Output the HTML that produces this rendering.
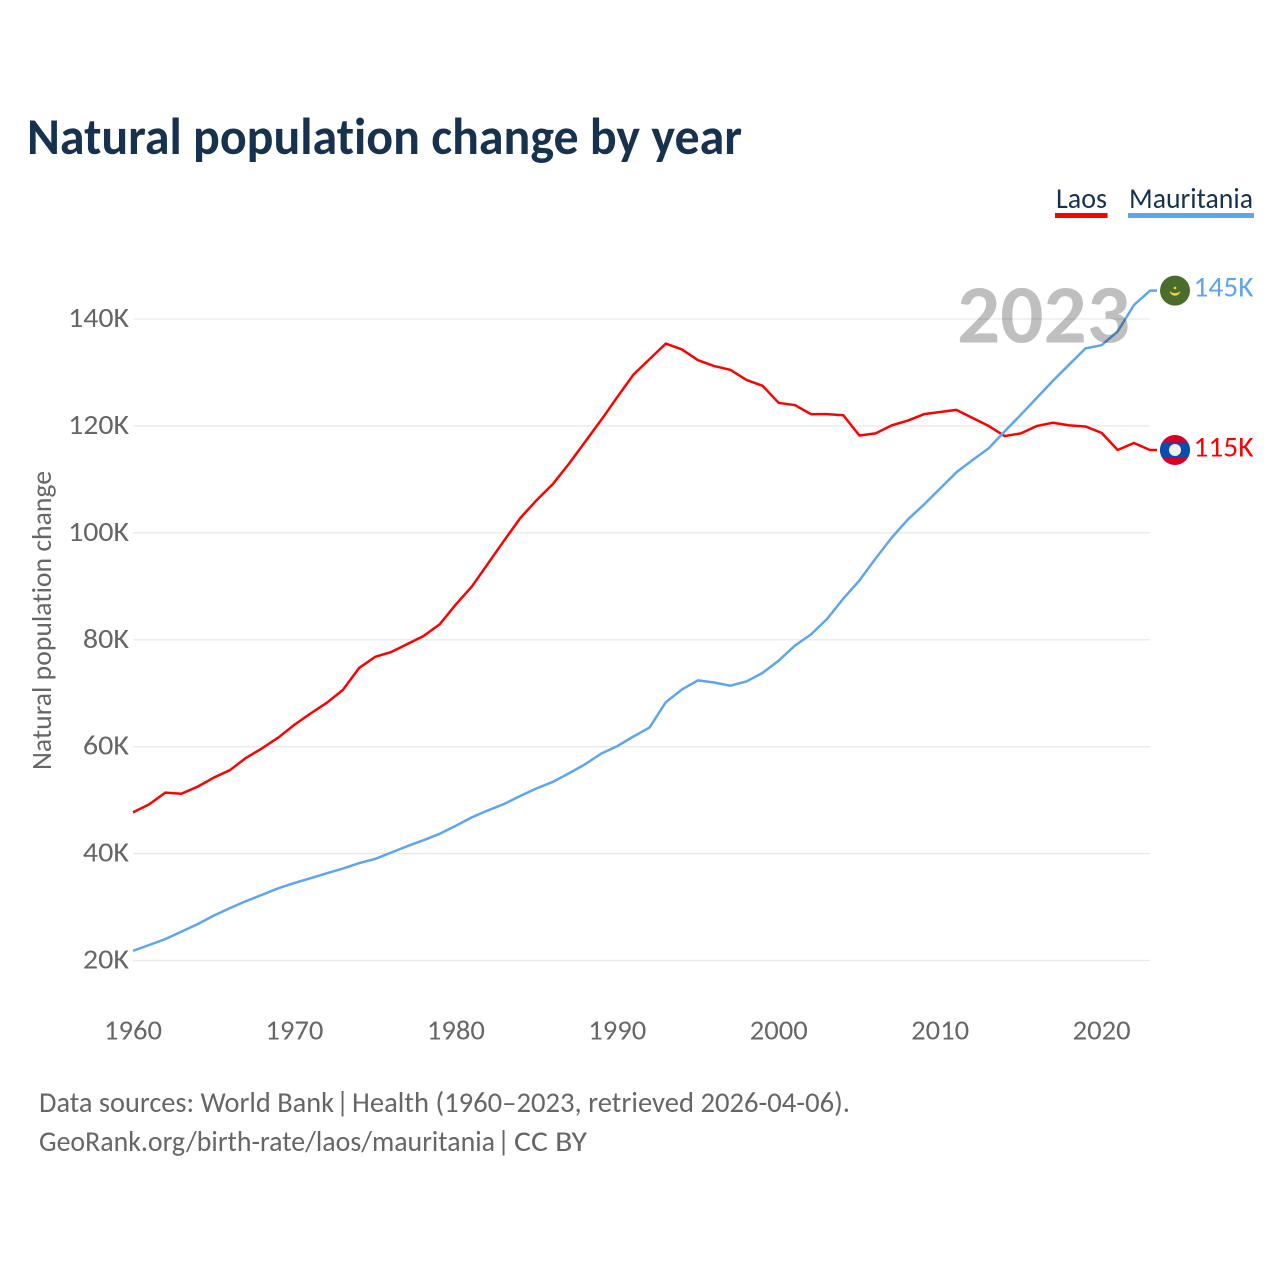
<!DOCTYPE html>
<html lang="en">
<head>
<meta charset="utf-8">
<title>Natural population change by year</title>
<style>
html,body{margin:0;padding:0;background:#fff;}
svg{display:block;font-family:"Carlito","Lato","Liberation Sans",sans-serif;font-variant-ligatures:none;}
.tick{font-size:28px;fill:#666;}
.foot{font-size:28.500px;fill:#666;}
</style>
</head>
<body>
<svg id="chart" xmlns="http://www.w3.org/2000/svg" width="1280" height="1280" viewBox="0 0 1280 1280">
  <defs>
    <clipPath id="laos-flag-clip"><circle cx="0" cy="0" r="15"/></clipPath>
  </defs>
  <rect x="0" y="0" width="1280" height="1280" fill="#fff"/>
  <text x="27" y="154" font-size="51.500" font-weight="700" fill="#17324f" textLength="715" lengthAdjust="spacingAndGlyphs">Natural population change by year</text>

  <g>
    <text x="1056" y="208" font-size="29" fill="#17324f" textLength="51" lengthAdjust="spacingAndGlyphs">Laos</text>
    <rect x="1055" y="213" width="52.500" height="5" fill="#ff0000"/>
  </g>
  <g>
    <text x="1129" y="208" font-size="29" fill="#17324f" textLength="124" lengthAdjust="spacingAndGlyphs">Mauritania</text>
    <rect x="1128" y="213" width="126" height="5" fill="#5fa5ec"/>
  </g>

  <g id="grid"></g>
  <g id="yticks"></g>
  <g id="xticks"></g>
  <text transform="translate(51,770) rotate(-90)" font-size="28" fill="#666" textLength="299" lengthAdjust="spacingAndGlyphs">Natural population change</text>

  <path id="line-laos" fill="none" stroke="#ff0000" stroke-width="2.500" stroke-linejoin="round"/>
  <path id="line-mauritania" fill="none" stroke="#5fa5ec" stroke-width="2.500" stroke-linejoin="round"/>

  <g id="flag-mauritania">
    <circle cx="0" cy="0" r="15" fill="#4a6d2e"/>
    <path d="M-5.500 0.500A5.600 5.600 0 0 0 5.500 0.500A7 5 0 0 1 -5.500 0.500Z" fill="#f2d33c"/>
    <circle cx="0" cy="-2.800" r="1.300" fill="#f2d33c"/>
  </g>
  <g id="flag-laos">
    <circle cx="0" cy="0" r="15" fill="#d80027"/>
    <rect x="-15" y="-7.500" width="30" height="15" fill="#0a4db0" clip-path="url(#laos-flag-clip)"/>
    <circle cx="0" cy="0" r="6" fill="#f0f0f0"/>
  </g>

  <text id="end-label-mauritania" x="1193.500" font-size="28.500" fill="#5fa5ec" textLength="60" lengthAdjust="spacingAndGlyphs"></text>
  <text id="end-label-laos" x="1193.500" font-size="28.500" fill="#ff0000" textLength="60" lengthAdjust="spacingAndGlyphs"></text>

  <text x="957" y="342.500" font-size="83" font-weight="700" fill="rgba(0,0,0,0.25)" textLength="173" lengthAdjust="spacingAndGlyphs">2023</text>

  <text class="foot" y="1112"><tspan x="39" textLength="295" lengthAdjust="spacingAndGlyphs">Data sources: World Bank</tspan><tspan x="336">|</tspan><tspan x="352" textLength="498" lengthAdjust="spacingAndGlyphs">Health (1960–2023, retrieved 2026-04-06).</tspan></text>
  <text class="foot" y="1151"><tspan x="39" textLength="456" lengthAdjust="spacingAndGlyphs">GeoRank.org/birth-rate/laos/mauritania</tspan><tspan x="497">|</tspan><tspan x="514" textLength="73" lengthAdjust="spacingAndGlyphs">CC BY</tspan></text>
</svg>
<script>
const years = [1960,1961,1962,1963,1964,1965,1966,1967,1968,1969,1970,1971,1972,1973,1974,1975,1976,1977,1978,1979,1980,1981,1982,1983,1984,1985,1986,1987,1988,1989,1990,1991,1992,1993,1994,1995,1996,1997,1998,1999,2000,2001,2002,2003,2004,2005,2006,2007,2008,2009,2010,2011,2012,2013,2014,2015,2016,2017,2018,2019,2020,2021,2022,2023];
const laosValues = [47.7,49.2,51.4,51.2,52.5,54.2,55.6,57.9,59.7,61.7,64.1,66.2,68.2,70.6,74.7,76.8,77.7,79.2,80.7,82.9,86.6,90.0,94.3,98.6,102.8,106.1,109.1,112.9,117.0,121.1,125.4,129.6,132.5,135.4,134.3,132.3,131.2,130.5,128.6,127.5,124.3,123.9,122.2,122.2,122.0,118.2,118.6,120.1,121.0,122.2,122.6,123.0,121.5,120.0,118.1,118.6,120.0,120.6,120.1,119.9,118.7,115.5,116.8,115.5];
const mauritaniaValues = [21.8,22.9,24.0,25.4,26.8,28.4,29.8,31.1,32.3,33.5,34.5,35.4,36.3,37.2,38.2,39.0,40.2,41.4,42.5,43.7,45.2,46.8,48.1,49.3,50.8,52.2,53.4,55.0,56.7,58.7,60.1,61.9,63.6,68.3,70.7,72.4,72.0,71.4,72.2,73.8,76.1,78.9,81.0,83.9,87.7,91.1,95.2,99.1,102.5,105.3,108.3,111.3,113.6,115.8,119.0,122.1,125.3,128.5,131.5,134.5,135.1,137.7,142.6,145.3];
const yTickValues = [20,40,60,80,100,120,140];
const yTickLabels = ["20K","40K","60K","80K","100K","120K","140K"];
const xTickValues = [1960,1970,1980,1990,2000,2010,2020];
const xTickLabels = ["1960","1970","1980","1990","2000","2010","2020"];
const laosEndLabel = "115K";
const mauritaniaEndLabel = "145K";

const NS = "http://www.w3.org/2000/svg";
function xScale(year) { return 133 + (year - 1960) * (1101.6 - 133) / 60; }
function yScale(value) { return 960.5 - (value - 20) * (960.5 - 319) / 120; }
const plotRight = xScale(years[years.length - 1]);
const stubRight = plotRight + 7;

function linePath(values) {
  let d = "";
  values.forEach(function (v, i) {
    d += (i === 0 ? "M" : "L") + xScale(years[i]).toFixed(2) + " " + yScale(v).toFixed(2);
  });
  return d + "L" + stubRight.toFixed(2) + " " + yScale(values[values.length - 1]).toFixed(2);
}

const gridGroup = document.getElementById("grid");
const yGroup = document.getElementById("yticks");
const xGroup = document.getElementById("xticks");

yTickValues.forEach(function (v, i) {
  const line = document.createElementNS(NS, "line");
  
  
  line.setAttribute("x1", xScale(years[0]));
  line.setAttribute("x2", plotRight);
  line.setAttribute("y1", yScale(v));
  line.setAttribute("y2", yScale(v));
  line.setAttribute("stroke", "#e9e9e9");
  line.setAttribute("stroke-width", "1.300");
  gridGroup.appendChild(line);

  const label = document.createElementNS(NS, "text");
  
  
  label.setAttribute("class", "tick");
  label.setAttribute("x", 129);
  label.setAttribute("y", yScale(v) + 8);
  label.setAttribute("text-anchor", "end");
  label.setAttribute("textLength", (yTickLabels[i].length - 1) * 14.8 + 16.500);
  label.setAttribute("lengthAdjust", "spacingAndGlyphs");
  label.textContent = yTickLabels[i];
  yGroup.appendChild(label);
});

xTickValues.forEach(function (v, i) {
  const label = document.createElementNS(NS, "text");
  
  
  label.setAttribute("class", "tick");
  label.setAttribute("x", xScale(v));
  label.setAttribute("y", 1039.500);
  label.setAttribute("text-anchor", "middle");
  label.setAttribute("textLength", xTickLabels[i].length * 14.5);
  label.setAttribute("lengthAdjust", "spacingAndGlyphs");
  label.textContent = xTickLabels[i];
  xGroup.appendChild(label);
});

document.getElementById("line-laos").setAttribute("d", linePath(laosValues));
document.getElementById("line-mauritania").setAttribute("d", linePath(mauritaniaValues));

const laosEndY = yScale(laosValues[laosValues.length - 1]);
const mauritaniaEndY = yScale(mauritaniaValues[mauritaniaValues.length - 1]);
document.getElementById("flag-laos").setAttribute("transform", "translate(1175," + laosEndY + ")");
document.getElementById("flag-mauritania").setAttribute("transform", "translate(1175," + mauritaniaEndY + ")");
const laosLabel = document.getElementById("end-label-laos");
laosLabel.setAttribute("y", laosEndY + 6.700);
laosLabel.textContent = laosEndLabel;
const mauritaniaLabel = document.getElementById("end-label-mauritania");
mauritaniaLabel.setAttribute("y", mauritaniaEndY + 6);
mauritaniaLabel.textContent = mauritaniaEndLabel;
</script>
</body>
</html>
